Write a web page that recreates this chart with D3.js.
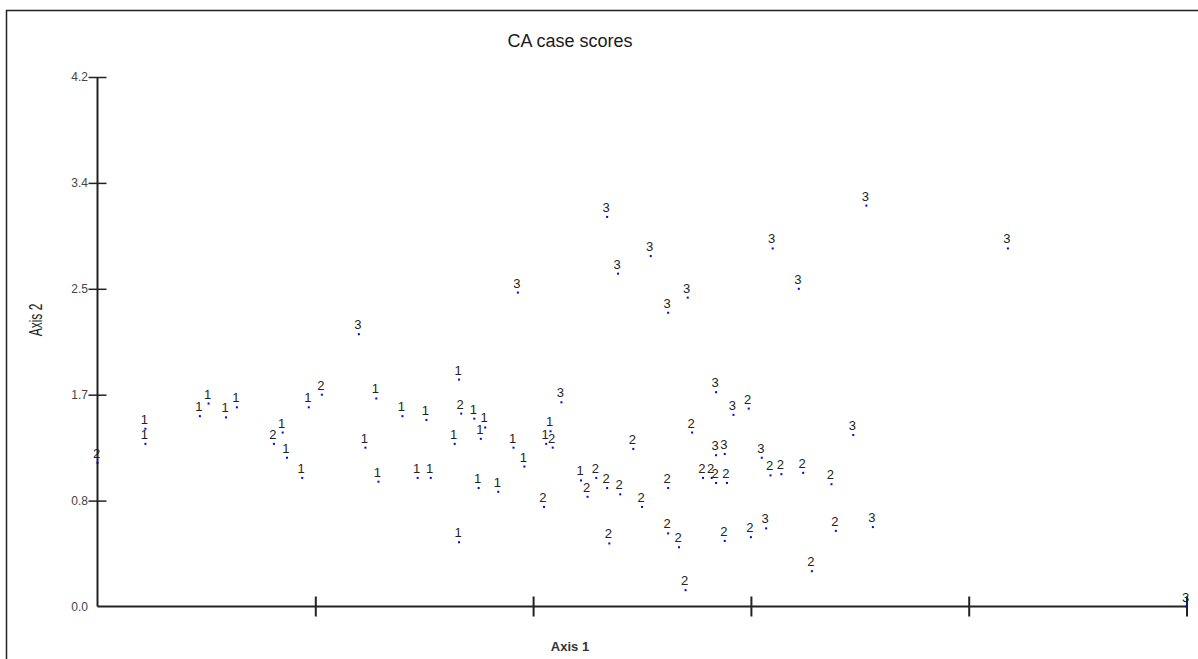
<!DOCTYPE html>
<html>
<head>
<meta charset="utf-8">
<script src="https://cdn.jsdelivr.net/npm/d3@7"></script>
<style>
  html, body { margin: 0; padding: 0; background: #fff; }
  svg { display: block; font-family: Arial, "Liberation Sans", sans-serif; }
</style>
</head>
<body>
<svg id="chart" width="1198" height="659"></svg>
<script>
// case scores, split by group label
const group1Axis1 = [0.22, 0.22, 0.47, 0.51, 0.59, 0.64, 0.85, 0.87, 0.94, 0.97,
  1.28, 1.23, 1.29, 1.40, 1.51, 1.47, 1.53, 1.66, 1.73, 1.78,
  1.76, 1.64, 1.91, 2.08, 2.06, 1.96, 1.75, 1.84, 1.66, 2.22];
const group1Axis2 = [1.41, 1.29, 1.51, 1.61, 1.50, 1.58, 1.38, 1.18, 1.02, 1.58,
  1.65, 1.26, 0.99, 1.51, 1.48, 1.02, 1.02, 1.80, 1.49, 1.42,
  1.33, 1.29, 1.26, 1.39, 1.29, 1.11, 0.94, 0.91, 0.51, 1.00];

const group2Axis1 = [0.00, 0.81, 1.03, 1.67, 2.09, 2.05, 2.29, 2.34, 2.25, 2.40,
  2.50, 2.46, 2.35, 2.62, 2.62, 2.67, 2.70, 2.73, 2.99, 2.78,
  2.82, 2.84, 2.89, 3.09, 3.14, 2.88, 3.00, 3.24, 3.37, 3.39, 3.28];
const group2Axis2 = [1.14, 1.29, 1.68, 1.53, 1.26, 0.79, 1.02, 0.94, 0.87, 0.89,
  0.79, 1.25, 0.50, 0.94, 0.58, 0.47, 0.13, 1.38, 1.57, 1.02,
  1.02, 0.98, 0.98, 1.04, 1.05, 0.52, 0.55, 1.06, 0.97, 0.60, 0.28];

const group3Axis1 = [1.20, 1.93, 2.13, 2.34, 2.39, 2.54, 2.62, 2.71, 2.84, 2.92,
  2.84, 2.88, 3.05, 3.07, 3.10, 3.22, 3.47, 3.56, 3.53, 4.18, 5.00];
const group3Axis2 = [2.16, 2.49, 1.62, 3.09, 2.64, 2.78, 2.33, 2.45, 1.70, 1.52,
  1.20, 1.21, 1.18, 0.62, 2.84, 2.52, 1.36, 0.63, 3.18, 2.84, 0.00];

const yTickValues = [0.84, 1.68, 2.52, 3.36, 4.2];
const yTickLabels = ['0.0', '0.8', '1.7', '2.5', '3.4', '4.2'];
const xTickValues = [1, 2, 3, 4, 5];

const points = [];
[[ '1', group1Axis1, group1Axis2 ], [ '2', group2Axis1, group2Axis2 ], [ '3', group3Axis1, group3Axis2 ]]
  .forEach(([g, xs, ys]) => xs.forEach((v, i) => points.push({ group: g, a1: v, a2: ys[i] })));

const svg = d3.select('#chart');

const x = d3.scaleLinear().domain([0, 5]).range([97.5, 1186.5]);
const y = d3.scaleLinear().domain([0, 4.2]).range([606.5, 77]);

// outer frame (only left and top edges show in the picture)
svg.append('path')
  .attr('d', 'M6.5,662 L6.5,10.5 L1200,10.5')
  .attr('fill', 'none')
  .attr('stroke', '#222')
  .attr('stroke-width', 1.5);

svg.append('text')
  .attr('x', 570).attr('y', 47)
  .attr('text-anchor', 'middle')
  .attr('font-size', 18)
  .attr('fill', '#1a1a1a')
  .text('CA case scores');

// y axis
const yAxis = svg.append('g')
  .attr('transform', `translate(${x(0)},0)`)
  .call(d3.axisLeft(y).tickValues(yTickValues).tickSize(9).tickFormat(''));
yAxis.select('.domain').attr('d', `M0,${y(4.2)}V${y(0)}`).attr('stroke', '#222').attr('stroke-width', 2);
yAxis.selectAll('.tick line').attr('x1', -9).attr('x2', 9).attr('stroke', '#222').attr('stroke-width', 1.5);

svg.append('g')
  .selectAll('text')
  .data([0].concat(yTickValues))
  .join('text')
  .attr('x', 88)
  .attr('y', d => y(d) + 4)
  .attr('text-anchor', 'end')
  .attr('font-size', 12)
  .attr('fill', '#444')
  .text((d, i) => yTickLabels[i]);

// x axis
const xAxis = svg.append('g')
  .attr('transform', `translate(0,${y(0)})`)
  .call(d3.axisBottom(x).tickValues(xTickValues).tickSize(10).tickFormat(''));
xAxis.select('.domain').attr('d', `M${x(0)},0H${x(5)}`).attr('stroke', '#222').attr('stroke-width', 2);
xAxis.selectAll('.tick line').attr('y1', -10).attr('y2', 10).attr('stroke', '#222').attr('stroke-width', 2);

svg.append('text')
  .attr('x', 570).attr('y', 651)
  .attr('text-anchor', 'middle')
  .attr('font-size', 13)
  .attr('font-weight', 'bold')
  .attr('fill', '#333')
  .text('Axis 1');

svg.append('text')
  .attr('transform', 'translate(42,320) rotate(-90) scale(1,1.6)')
  .attr('text-anchor', 'middle')
  .attr('font-size', 12)
  .attr('fill', '#222')
  .text('Axis 2');

// case points: blue dot with group label just above it
const cases = svg.append('g')
  .selectAll('.case')
  .data(points)
  .join('g')
  .classed('case', true);

cases.append('rect')
  .attr('x', d => x(d.a1) - 1)
  .attr('y', d => y(d.a2) - 1)
  .attr('width', 2)
  .attr('height', 2)
  .attr('fill', '#0000ff');

cases.append('text')
  .attr('x', d => x(d.a1) - 1)
  .attr('y', d => y(d.a2) - 5)
  .attr('text-anchor', 'middle')
  .attr('font-size', 13)
  .attr('fill', '#222')
  .text(d => d.group);
</script>
</body>
</html>
